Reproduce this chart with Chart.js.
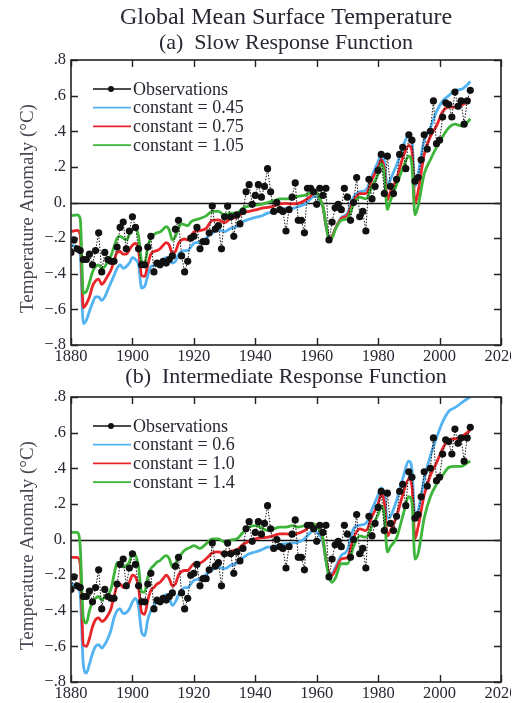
<!DOCTYPE html>
<html>
<head>
<meta charset="utf-8">
<title>Global Mean Surface Temperature</title>
<script src="https://cdn.jsdelivr.net/npm/chart.js@4.4.1/dist/chart.umd.min.js"></script>
<style>
  html, body { margin: 0; padding: 0; background: #fff; }
  #page { position: relative; width: 511px; height: 703px; overflow: hidden; background: #fff; }
  .panel { position: absolute; left: 0; width: 520px; }
  #panel-a { top: 0; height: 366px; }
  #panel-b { top: 366px; height: 337px; }
</style>
</head>
<body>
<div id="page">
  <div class="panel" id="panel-a"><canvas id="slow-chart" width="520" height="366"></canvas></div>
  <div class="panel" id="panel-b"><canvas id="intermediate-chart" width="520" height="337"></canvas></div>
</div>
<script>
// Annual global mean anomalies, 1880-2010 (°C)
const obsValues = [
  -0.28, -0.21, -0.26, -0.27, -0.32, -0.32, -0.29, -0.35, -0.27, -0.17,
  -0.39, -0.28, -0.32, -0.33, -0.33, -0.25, -0.14, -0.11, -0.26, -0.16,
  -0.08, -0.14, -0.26, -0.35, -0.35, -0.25, -0.19, -0.39, -0.34, -0.35,
  -0.33, -0.34, -0.32, -0.30, -0.15, -0.10, -0.30, -0.39, -0.33, -0.20,
  -0.19, -0.14, -0.26, -0.22, -0.22, -0.17, -0.02, -0.15, -0.13, -0.26,
  -0.08, -0.02, -0.08, -0.19, -0.07, -0.12, -0.05, 0.06, 0.10, -0.01,
  0.04, 0.10, 0.03, 0.09, 0.19, 0.06, -0.05, 0.00, -0.04, -0.05,
  -0.16, -0.04, 0.03, 0.11, -0.10, -0.10, -0.17, 0.08, 0.08, 0.06,
  -0.01, 0.08, 0.04, 0.08, -0.21, -0.11, -0.03, -0.01, -0.04, 0.08,
  0.03, -0.10, 0.00, 0.14, -0.08, -0.05, -0.16, 0.13, 0.02, 0.09,
  0.18, 0.27, 0.05, 0.26, 0.09, 0.05, 0.13, 0.27, 0.31, 0.19,
  0.38, 0.35, 0.12, 0.14, 0.24, 0.38, 0.30, 0.40, 0.57, 0.33,
  0.35, 0.48, 0.56, 0.55, 0.48, 0.62, 0.54, 0.57, 0.44, 0.57,
  0.63
];
const obsYears = obsValues.map((_, i) => 1880 + i);

// Years at which the response-model curves are given
const modelYears = [
  1880, 1882, 1883, 1884, 1885, 1886, 1887, 1888, 1889, 1890,
  1891, 1892, 1893, 1894, 1895, 1896, 1897, 1898, 1899, 1900,
  1901, 1902, 1903, 1904, 1905, 1906, 1907, 1908, 1909, 1910,
  1911, 1912, 1913, 1914, 1915, 1916, 1917, 1918, 1919, 1920,
  1922, 1924, 1926, 1928, 1930, 1932, 1934, 1936, 1938, 1940,
  1942, 1944, 1946, 1948, 1950, 1952, 1954, 1956, 1958, 1959,
  1960, 1961, 1962, 1963, 1964, 1965, 1966, 1968, 1970, 1972,
  1974, 1976, 1978, 1980, 1981, 1982, 1983, 1984, 1986, 1988,
  1990, 1991, 1992, 1993, 1995, 1997, 1999, 2001, 2003, 2005,
  2007, 2009, 2010
];

// (a) slow response function
const slow045 = [
  -0.24, -0.25, -0.285, -0.68, -0.66, -0.61, -0.565, -0.53, -0.53, -0.55,
  -0.53, -0.49, -0.45, -0.41, -0.37, -0.35, -0.37, -0.36, -0.34, -0.31,
  -0.32, -0.35, -0.48, -0.47, -0.41, -0.36, -0.355, -0.34, -0.33, -0.32,
  -0.31, -0.32, -0.34, -0.33, -0.29, -0.275, -0.27, -0.27, -0.25, -0.23,
  -0.22, -0.20, -0.17, -0.154, -0.163, -0.145, -0.135, -0.107, -0.094, -0.083,
  -0.076, -0.06, -0.051, -0.042, -0.033, -0.033, -0.023, -0.01, 0.02, 0.033,
  0.033, 0.01, -0.025, -0.13, -0.20, -0.19, -0.15, -0.085, -0.06, 0.03,
  0.06, 0.07, 0.15, 0.23, 0.27, 0.23, 0.09, 0.13, 0.21, 0.31,
  0.38, 0.35, 0.09, 0.16, 0.35, 0.42, 0.51, 0.57, 0.60, 0.63,
  0.635, 0.66, 0.68
];
const slow075 = [
  -0.163, -0.157, -0.18, -0.59, -0.57, -0.53, -0.47, -0.44, -0.43, -0.46,
  -0.44, -0.41, -0.38, -0.33, -0.28, -0.275, -0.29, -0.29, -0.265, -0.24,
  -0.23, -0.27, -0.41, -0.415, -0.35, -0.29, -0.275, -0.27, -0.26, -0.24,
  -0.225, -0.24, -0.285, -0.275, -0.23, -0.21, -0.205, -0.21, -0.19, -0.165,
  -0.158, -0.145, -0.10, -0.098, -0.113, -0.089, -0.083, -0.057, -0.05, -0.042,
  -0.033, -0.027, -0.02, -0.008, -0.005, -0.008, -0.005, 0.01, 0.035, 0.05,
  0.05, 0.02, -0.02, -0.126, -0.20, -0.19, -0.15, -0.09, -0.07, 0.01,
  0.05, 0.05, 0.13, 0.20, 0.24, 0.19, 0.015, 0.06, 0.13, 0.25,
  0.32, 0.29, -0.005, 0.06, 0.27, 0.37, 0.43, 0.51, 0.535, 0.535,
  0.545, 0.565, 0.58
];
const slow105 = [
  -0.075, -0.07, -0.09, -0.51, -0.50, -0.45, -0.39, -0.36, -0.35, -0.37,
  -0.36, -0.33, -0.30, -0.25, -0.20, -0.19, -0.20, -0.21, -0.18, -0.155,
  -0.145, -0.19, -0.33, -0.34, -0.25, -0.20, -0.18, -0.17, -0.165, -0.15,
  -0.135, -0.155, -0.21, -0.19, -0.145, -0.12, -0.125, -0.13, -0.11, -0.10,
  -0.09, -0.075, -0.05, -0.05, -0.07, -0.06, -0.06, -0.03, -0.02, -0.015,
  -0.01, 0.00, 0.01, 0.02, 0.02, 0.025, 0.035, 0.04, 0.055, 0.066,
  0.055, 0.02, -0.02, -0.12, -0.21, -0.20, -0.155, -0.10, -0.09, -0.01,
  0.03, 0.02, 0.09, 0.16, 0.22, 0.16, -0.04, 0.01, 0.10, 0.19,
  0.26, 0.21, -0.07, -0.02, 0.16, 0.24, 0.31, 0.37, 0.42, 0.44,
  0.43, 0.45, 0.47
];

// (b) intermediate response function
const mid06 = [
  -0.25, -0.26, -0.31, -0.70, -0.75, -0.70, -0.64, -0.60, -0.59, -0.61,
  -0.59, -0.556, -0.51, -0.44, -0.40, -0.39, -0.416, -0.41, -0.39, -0.35,
  -0.33, -0.38, -0.52, -0.54, -0.45, -0.40, -0.37, -0.35, -0.34, -0.32,
  -0.31, -0.33, -0.37, -0.35, -0.31, -0.285, -0.27, -0.27, -0.25, -0.23,
  -0.22, -0.196, -0.17, -0.155, -0.164, -0.145, -0.132, -0.103, -0.08, -0.07,
  -0.058, -0.043, -0.04, -0.028, -0.024, -0.02, -0.015, 0.004, 0.04, 0.054,
  0.04, 0.022, -0.015, -0.118, -0.19, -0.19, -0.16, -0.09, -0.06, 0.06,
  0.08, 0.09, 0.17, 0.25, 0.29, 0.255, 0.12, 0.13, 0.22, 0.34,
  0.44, 0.395, 0.13, 0.16, 0.34, 0.47, 0.57, 0.66, 0.72, 0.74,
  0.765, 0.79, 0.80
];
const mid10 = [
  -0.10, -0.10, -0.136, -0.59, -0.60, -0.556, -0.49, -0.45, -0.44, -0.46,
  -0.45, -0.425, -0.39, -0.32, -0.26, -0.25, -0.27, -0.26, -0.24, -0.20,
  -0.21, -0.27, -0.41, -0.42, -0.34, -0.285, -0.27, -0.25, -0.24, -0.22,
  -0.20, -0.22, -0.26, -0.25, -0.20, -0.18, -0.174, -0.174, -0.155, -0.136,
  -0.132, -0.108, -0.076, -0.07, -0.084, -0.065, -0.058, -0.028, -0.01, 0.004,
  0.01, 0.013, 0.022, 0.032, 0.032, 0.028, 0.035, 0.05, 0.078, 0.084,
  0.078, 0.05, 0.004, -0.108, -0.19, -0.20, -0.174, -0.11, -0.10, 0.01,
  0.06, 0.05, 0.13, 0.20, 0.255, 0.21, 0.02, 0.05, 0.13, 0.25,
  0.34, 0.30, 0.005, 0.07, 0.25, 0.36, 0.43, 0.51, 0.56, 0.565,
  0.575, 0.60, 0.615
];
const mid14 = [
  0.04, 0.04, -0.04, -0.44, -0.47, -0.40, -0.35, -0.33, -0.32, -0.34,
  -0.32, -0.31, -0.28, -0.20, -0.13, -0.136, -0.155, -0.146, -0.127, -0.08,
  -0.09, -0.155, -0.295, -0.295, -0.21, -0.164, -0.146, -0.127, -0.118, -0.10,
  -0.09, -0.108, -0.155, -0.136, -0.10, -0.08, -0.06, -0.05, -0.043, -0.034,
  -0.05, -0.024, 0.004, 0.004, -0.015, -0.002, 0.004, 0.04, 0.07, 0.078,
  0.065, 0.05, 0.06, 0.07, 0.07, 0.078, 0.07, 0.078, 0.09, 0.088,
  0.073, 0.05, 0.013, -0.118, -0.21, -0.24, -0.22, -0.136, -0.136, -0.04,
  0.02, 0.013, 0.078, 0.14, 0.19, 0.14, -0.07, -0.04, 0.01, 0.13,
  0.24, 0.21, -0.11, -0.08, 0.12, 0.24, 0.31, 0.36, 0.405, 0.41,
  0.41, 0.43, 0.44
];

const xTicks = [1880, 1900, 1920, 1940, 1960, 1980, 2000, 2020];
const yTicks = [-0.8, -0.6, -0.4, -0.2, 0, 0.2, 0.4, 0.6, 0.8];

const BLUE = '#52b2f2';
const RED = '#e8262a';
const GREEN = '#3db53a';
const INK = '#2a2632';
const SERIF = '"Liberation Serif", "Times New Roman", serif';

function fmtY(v) {
    const d = Math.round(Math.abs(v) * 10);
    if (d === 0) return '0.';
    return (v < 0 ? '\u2212' : '') + '.' + d;
}

function modelSet(label, values, color, order) {
    return {
        label: label,
        data: modelYears.map((x, i) => ({ x: x, y: values[i] })),
        borderColor: color,
        backgroundColor: color,
        borderWidth: 2.8,
        pointRadius: 0,
        fill: false,
        cubicInterpolationMode: 'monotone',
        order: order
    };
}

function obsSet() {
    return {
        label: 'Observations',
        data: obsYears.map((x, i) => ({ x: x, y: obsValues[i] })),
        borderColor: '#111',
        backgroundColor: '#111',
        borderWidth: 1,
        borderDash: [1.5, 1.5],
        pointRadius: 3.6,
        pointBorderWidth: 0,
        pointBackgroundColor: '#111',
        tension: 0,
        order: 0
    };
}

// Frame, inward ticks, zero line, in-plot legend and headings
function decorPlugin(opts) {
    return {
        id: 'decor',
        beforeDatasetsDraw(chart) {
            const { ctx, chartArea, scales } = chart;
            const y0 = Math.round(scales.y.getPixelForValue(0)) + 0.5;
            ctx.save();
            ctx.strokeStyle = '#111';
            ctx.lineWidth = 1.4;
            ctx.beginPath();
            ctx.moveTo(chartArea.left, y0);
            ctx.lineTo(chartArea.right, y0);
            ctx.stroke();
            ctx.restore();
        },
        afterDatasetsDraw(chart) {
            const { ctx, chartArea: a, scales } = chart;
            const tl = 7;
            ctx.save();
            ctx.strokeStyle = '#222';
            ctx.lineWidth = 1.6;
            ctx.strokeRect(a.left, a.top, a.right - a.left, a.bottom - a.top);
            ctx.lineWidth = 1.4;
            ctx.beginPath();
            xTicks.forEach(t => {
                const px = Math.round(scales.x.getPixelForValue(t)) + 0.5;
                ctx.moveTo(px, a.bottom); ctx.lineTo(px, a.bottom - tl);
                ctx.moveTo(px, a.top); ctx.lineTo(px, a.top + tl);
            });
            yTicks.forEach(t => {
                const py = Math.round(scales.y.getPixelForValue(t)) + 0.5;
                ctx.moveTo(a.left, py); ctx.lineTo(a.left + tl, py);
                ctx.moveTo(a.right, py); ctx.lineTo(a.right - tl, py);
            });
            ctx.stroke();
            ctx.restore();
        },
        afterDraw(chart) {
            const { ctx, chartArea: a } = chart;
            const cx = (a.left + a.right) / 2;
            ctx.save();
            ctx.fillStyle = INK;
            ctx.textAlign = 'center';
            ctx.textBaseline = 'middle';
            opts.headings.forEach(h => {
                ctx.font = h.size + 'px ' + SERIF;
                ctx.fillText(h.text, cx, h.y);
            });

            // rotated axis title
            ctx.save();
            ctx.translate(28, (a.top + a.bottom) / 2 + 6);
            ctx.rotate(-Math.PI / 2);
            ctx.font = '19px ' + SERIF;
            ctx.fillStyle = '#4a4652';
            ctx.fillText('Temperature Anomaly (\u00B0C)', 0, 0);
            ctx.restore();

            // legend
            const x0 = a.left + 22, x1 = a.left + 60;
            ctx.textAlign = 'left';
            ctx.font = '18px ' + SERIF;
            opts.legend.forEach((item, i) => {
                const y = a.top + 29 + i * 18.7;
                ctx.strokeStyle = item.color;
                ctx.lineWidth = item.dot ? 1.3 : 1.7;
                ctx.beginPath();
                ctx.moveTo(x0, y);
                ctx.lineTo(x1, y);
                ctx.stroke();
                if (item.dot) {
                    ctx.fillStyle = item.color;
                    ctx.beginPath();
                    ctx.arc(x0 + 18, y, 3, 0, Math.PI * 2);
                    ctx.fill();
                }
                ctx.fillStyle = INK;
                ctx.fillText(item.text, x1 + 2, y + 1);
            });
            ctx.restore();
        }
    };
}

function buildChart(canvasId, datasets, opts) {
    const tickFont = { family: SERIF, size: 16.5 };
    return new Chart(document.getElementById(canvasId), {
        type: 'line',
        data: { datasets: datasets },
        options: {
            responsive: false,
            animation: false,
            layout: { padding: { top: opts.top, right: 19, left: 0, bottom: 0 } },
            plugins: { legend: { display: false }, tooltip: { enabled: false } },
            scales: {
                x: {
                    type: 'linear',
                    min: 1880, max: 2020,
                    grid: { display: false, drawTicks: false },
                    border: { display: false },
                    afterBuildTicks: s => { s.ticks = xTicks.map(v => ({ value: v })); },
                    ticks: {
                        font: tickFont, color: INK, padding: 2, maxRotation: 0,
                        callback: v => String(v)
                    },
                    afterFit: s => { s.height = opts.xHeight; }
                },
                y: {
                    min: -0.8, max: 0.8,
                    grid: { display: false, drawTicks: false },
                    border: { display: false },
                    afterBuildTicks: s => { s.ticks = yTicks.map(v => ({ value: v })); },
                    ticks: { font: tickFont, color: INK, padding: 5, callback: fmtY },
                    afterFit: s => { s.width = 71; }
                }
            }
        },
        plugins: [decorPlugin(opts)]
    });
}

buildChart('slow-chart', [
    obsSet(),
    modelSet('constant = 0.45', slow045, BLUE, 3),
    modelSet('constant = 0.75', slow075, RED, 2),
    modelSet('constant = 1.05', slow105, GREEN, 1)
], {
    top: 60, xHeight: 21,
    headings: [
        { text: 'Global Mean Surface Temperature', y: 18, size: 24 },
        { text: '(a)  Slow Response Function', y: 43, size: 22 }
    ],
    legend: [
        { text: 'Observations', color: '#111', dot: true },
        { text: 'constant = 0.45', color: BLUE },
        { text: 'constant = 0.75', color: RED },
        { text: 'constant = 1.05', color: GREEN }
    ]
});

buildChart('intermediate-chart', [
    obsSet(),
    modelSet('constant = 0.6', mid06, BLUE, 3),
    modelSet('constant = 1.0', mid10, RED, 2),
    modelSet('constant = 1.4', mid14, GREEN, 1)
], {
    top: 31, xHeight: 21,
    headings: [
        { text: '(b)  Intermediate Response Function', y: 11, size: 22 }
    ],
    legend: [
        { text: 'Observations', color: '#111', dot: true },
        { text: 'constant = 0.6', color: BLUE },
        { text: 'constant = 1.0', color: RED },
        { text: 'constant = 1.4', color: GREEN }
    ]
});
</script>
</body>
</html>
